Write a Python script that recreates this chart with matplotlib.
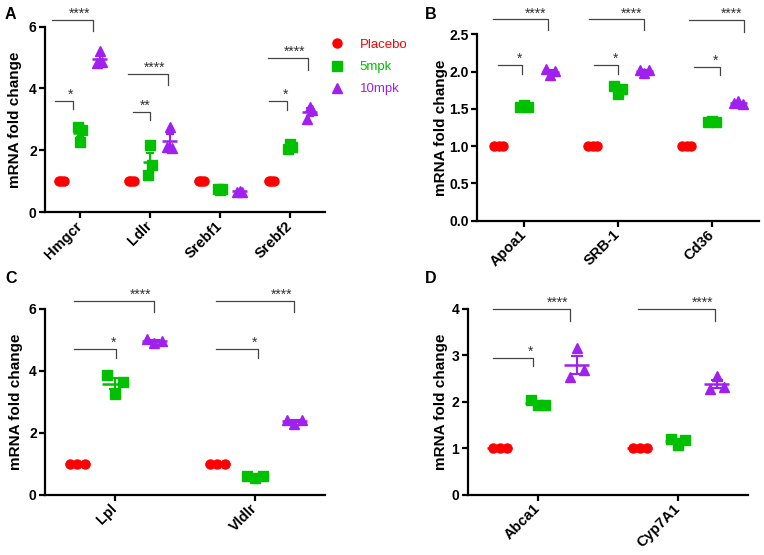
import numpy as np
import matplotlib
matplotlib.use("Agg")
import matplotlib.pyplot as plt

plt.rcParams['font.family'] = ['Liberation Sans', 'DejaVu Sans']

# groups and colours
groups = ['Placebo', '5mpk', '10mpk']
colors = ['#FF0000', '#00C000', '#A020F0']
markers = ['o', 's', '^']

# panel A
a_genes = ['Hmgcr', 'Ldlr', 'Srebf1', 'Srebf2']
a_placebo = [[1.0, 1.0, 1.0], [1.0, 1.0, 1.0], [1.0, 1.0, 1.0], [1.0, 1.0, 1.0]]
a_5mpk = [[2.75, 2.27, 2.67], [1.19, 2.16, 1.52], [0.73, 0.71, 0.74], [2.05, 2.2, 2.1]]
a_10mpk = [[4.82, 5.22, 4.87], [2.1, 2.75, 2.08], [0.66, 0.68, 0.66], [3.0, 3.4, 3.3]]

# panel B
b_genes = ['Apoa1', 'SRB-1', 'Cd36']
b_placebo = [[1.0, 1.0, 1.0], [1.0, 1.0, 1.0], [1.0, 1.0, 1.0]]
b_5mpk = [[1.53, 1.55, 1.53], [1.80, 1.70, 1.77], [1.33, 1.34, 1.32]]
b_10mpk = [[2.03, 1.96, 2.01], [2.02, 1.98, 2.02], [1.58, 1.60, 1.57]]

# panel C
c_genes = ['Lpl', 'Vldlr']
c_placebo = [[1.0, 1.0, 1.0], [1.0, 1.0, 1.0]]
c_5mpk = [[3.88, 3.24, 3.65], [0.62, 0.55, 0.60]]
c_10mpk = [[5.02, 4.90, 4.95], [2.42, 2.30, 2.42]]

# panel D
d_genes = ['Abca1', 'Cyp7A1']
d_placebo = [[1.0, 1.0, 1.0], [1.0, 1.0, 1.0]]
d_5mpk = [[2.03, 1.93, 1.94], [1.20, 1.07, 1.18]]
d_10mpk = [[2.53, 3.16, 2.68], [2.27, 2.55, 2.32]]

# significance brackets: gene idx, x start, x end, line y, drop y, label, label x
a_sig = [(0, -0.40, 0.18, 6.21, 5.85, '****', 0.0), (0, -0.36, -0.10, 3.61, 3.35, '*', -0.14),
         (1, -0.32, 0.25, 4.47, 4.12, '****', 0.07), (1, -0.25, 0.00, 3.24, 2.97, '**', -0.07),
         (3, -0.32, 0.25, 4.99, 4.61, '****', 0.07), (3, -0.30, -0.04, 3.59, 3.29, '*', -0.07)]
b_sig = [(0, -0.33, 0.25, 2.70, 2.56, '****', 0.12), (0, -0.28, -0.02, 2.09, 1.97, '*', -0.05),
         (1, -0.31, 0.28, 2.70, 2.56, '****', 0.14), (1, -0.26, 0.00, 2.09, 1.97, '*', -0.03),
         (2, -0.24, 0.34, 2.69, 2.53, '****', 0.21), (2, -0.19, 0.08, 2.06, 1.95, '*', 0.04)]
c_sig = [(0, -0.29, 0.275, 6.27, 5.89, '****', 0.18), (0, -0.29, 0.01, 4.71, 4.43, '*', -0.01),
         (1, -0.28, 0.28, 6.27, 5.89, '****', 0.19), (1, -0.28, 0.02, 4.71, 4.43, '*', 0.0)]
d_sig = [(0, -0.32, 0.23, 4.0, 3.75, '****', 0.14), (0, -0.32, -0.03, 2.95, 2.77, '*', -0.05),
         (1, -0.28, 0.27, 4.0, 3.75, '****', 0.18)]

offsets = [-0.27, 0.0, 0.28]

fig = plt.figure(figsize=(7.64, 5.55), dpi=100)
W, H = 764, 555


def make_axes(left, top, right, bottom):
    return fig.add_axes([left / W, 1 - bottom / H, (right - left) / W, (bottom - top) / H])


def draw_panel(ax, genes, series, sig, ylim, yticks, jitter, hw, cap, fmt):
    for g, vals in enumerate(series):
        for i, pts in enumerate(vals):
            pts = np.array(pts)
            xc = i + offsets[g]
            xs = xc + np.array([-jitter, 0, jitter])
            ax.plot(xs, pts, linestyle='none', marker=markers[g], color=colors[g],
                    ms=6.5 if g < 2 else 7, mec=colors[g], zorder=3, clip_on=False,
                    label=groups[g] if i == 0 else None)
            m = pts.mean()
            sem = pts.std(ddof=1) / np.sqrt(len(pts))
            ax.hlines(m, xc - hw, xc + hw, color=colors[g], lw=1.8, zorder=4)
            ax.errorbar(xc, m, yerr=sem, color=colors[g], lw=1.5, capsize=cap,
                        capthick=1.5, zorder=4)
    for (gi, x0, x1, yl, yd, lab, lx) in sig:
        ax.plot([gi + x0, gi + x1, gi + x1], [yl, yl, yd], color='#444444', lw=0.9,
                clip_on=False)
        ax.annotate(lab, (gi + lx, yl), xytext=(0, 1.5), textcoords='offset points',
                    ha='center', va='baseline', fontsize=10, color='#333333',
                    annotation_clip=False)
    ax.set_xlim(-0.5, len(genes) - 0.5)
    ax.set_ylim(*ylim)
    ax.set_yticks(yticks)
    ax.set_yticklabels([fmt % t for t in yticks], fontweight='bold', fontsize=10)
    ax.set_xticks(range(len(genes)))
    ax.set_xticklabels(genes, rotation=45, ha='right', va='center',
                       rotation_mode='anchor', fontweight='bold', fontsize=10.5)
    ax.spines['top'].set_visible(False)
    ax.spines['right'].set_visible(False)
    ax.spines['left'].set_linewidth(1.6)
    ax.spines['bottom'].set_linewidth(1.6)
    ax.tick_params(axis='both', direction='out', length=4.5, width=1.6, pad=1.5)
    ax.tick_params(axis='x', pad=4)
    ax.set_ylabel('mRNA fold change', fontsize=11, fontweight='bold')


ax_a = make_axes(45, 26.7, 325, 212)
draw_panel(ax_a, a_genes, [a_placebo, a_5mpk, a_10mpk], a_sig, (0, 6), [0, 2, 4, 6],
           0.035, 0.105, 3.2, '%d')
ax_a.yaxis.set_label_coords(-23 / 280, 0.5)

ax_b = make_axes(477, 34.3, 759, 220.7)
draw_panel(ax_b, b_genes, [b_placebo, b_5mpk, b_10mpk], b_sig, (0, 2.5),
           [0, 0.5, 1.0, 1.5, 2.0, 2.5], 0.045, 0.09, 3.4, '%.1f')
ax_b.yaxis.set_label_coords(-29 / 282, 0.5)

ax_c = make_axes(45, 309, 325, 494.7)
draw_panel(ax_c, c_genes, [c_placebo, c_5mpk, c_10mpk], c_sig, (0, 6), [0, 2, 4, 6],
           0.054, 0.09, 4.2, '%d')
ax_c.yaxis.set_label_coords(-22 / 280, 0.5)

ax_d = make_axes(467.5, 309, 747.5, 494.7)
draw_panel(ax_d, d_genes, [d_placebo, d_5mpk, d_10mpk], d_sig, (0, 4), [0, 1, 2, 3, 4],
           0.05, 0.09, 4.2, '%d')
ax_d.yaxis.set_label_coords(-20 / 280, 0.5)

# legend
handles, labels = ax_a.get_legend_handles_labels()
leg = fig.legend(handles, labels, loc='upper left', bbox_to_anchor=(319 / W, 1 - 27 / H),
                 frameon=False, fontsize=9.5, labelcolor=colors, handlelength=1.0,
                 handletextpad=1.2, labelspacing=0.75)

# panel letters
for lab, x, y in [('A', 5, 19), ('B', 425, 19), ('C', 5, 283), ('D', 425, 283)]:
    fig.text(x / W, 1 - y / H, lab, fontsize=11.5, fontweight='bold', va='baseline')

fig.savefig('out.png', dpi=100)
